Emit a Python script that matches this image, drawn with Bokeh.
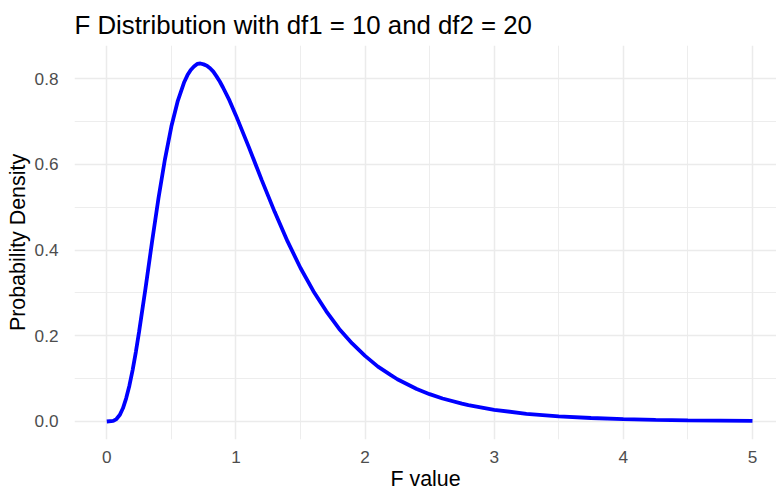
from bokeh.plotting import figure
from bokeh.models import Range1d, FixedTicker
from bokeh.embed import file_html
from bokeh.resources import INLINE

# F(10, 20) density
f_value = [0.0, 0.05, 0.075, 0.1, 0.125, 0.15, 0.175, 0.2, 0.225, 0.25, 0.3, 0.35, 0.4,
           0.45, 0.5, 0.55, 0.6, 0.625, 0.65, 0.675, 0.7, 0.725, 0.75, 0.775, 0.8, 0.825,
           0.85, 0.875, 0.9, 0.95, 1.0, 1.1, 1.2, 1.3, 1.4, 1.5, 1.6, 1.7, 1.8, 1.9, 2.0,
           2.1, 2.2, 2.25, 2.4, 2.5, 2.6, 2.75, 2.8, 3.0, 3.25, 3.5, 3.75, 4.0, 4.25, 4.5,
           5.0]
density = [0.0, 0.0014, 0.0057, 0.015, 0.0308, 0.054, 0.0834, 0.120, 0.162, 0.209, 0.311,
           0.418, 0.520, 0.611, 0.688, 0.748, 0.792, 0.808, 0.820, 0.828, 0.834, 0.835,
           0.833, 0.830, 0.824, 0.816, 0.805, 0.793, 0.779, 0.749, 0.714, 0.640, 0.563,
           0.489, 0.420, 0.358, 0.304, 0.257, 0.216, 0.182, 0.153, 0.128, 0.108, 0.0985,
           0.0758, 0.0638, 0.0536, 0.0415, 0.0381, 0.0272, 0.0180, 0.0120, 0.0082, 0.0056,
           0.0039, 0.0027, 0.0014]

x_ticks = [0, 1, 2, 3, 4, 5]
x_minor = [0.5, 1.5, 2.5, 3.5, 4.5]
y_ticks = [0.0, 0.2, 0.4, 0.6, 0.8]
y_minor = [0.1, 0.3, 0.5, 0.7]

p = figure(width=776, height=493, output_backend="svg", toolbar_location=None,
           x_range=Range1d(-0.25, 5.186), y_range=Range1d(-0.042, 0.877),
           min_border_left=74, min_border_right=0, min_border_top=45, min_border_bottom=54)

p.title.text = "F Distribution with df1 = 10 and df2 = 20"
p.title.text_font = "Liberation Sans"
p.title.text_font_size = "25.8px"
p.title.text_font_style = "normal"
p.title.text_color = "black"
p.title.offset = 0
p.title.standoff = 14

p.outline_line_color = None
p.background_fill_color = "white"
p.border_fill_color = "white"

for ax in (p.xaxis, p.yaxis):
    ax.axis_line_color = None
    ax.major_tick_line_color = None
    ax.minor_tick_line_color = None
    ax.major_label_text_font = "Liberation Sans"
    ax.major_label_text_font_size = "17.2px"
    ax.major_label_text_color = "#4D4D4D"
    ax.axis_label_text_font = "Liberation Sans"
    ax.axis_label_text_font_size = "21.4px"
    ax.axis_label_text_font_style = "normal"
    ax.axis_label_text_color = "black"

p.xaxis.ticker = FixedTicker(ticks=x_ticks, minor_ticks=x_minor)
p.yaxis.ticker = FixedTicker(ticks=y_ticks, minor_ticks=y_minor)
p.yaxis.major_label_overrides = {v: f"{v:.1f}" for v in y_ticks}
p.xaxis.axis_label = "F value"
p.yaxis.axis_label = "Probability Density"
p.xaxis.major_label_standoff = 5
p.yaxis.major_label_standoff = 10
p.xaxis.axis_label_standoff = 1
p.yaxis.axis_label_standoff = 2

for g in (p.xgrid, p.ygrid):
    g.grid_line_color = "#EBEBEB"
    g.grid_line_width = 1.5
    g.minor_grid_line_color = "#EBEBEB"
    g.minor_grid_line_width = 0.9

p.line(f_value, density, line_color="blue", line_width=3.8)

open("out.html", "w").write(file_html(p, INLINE))
